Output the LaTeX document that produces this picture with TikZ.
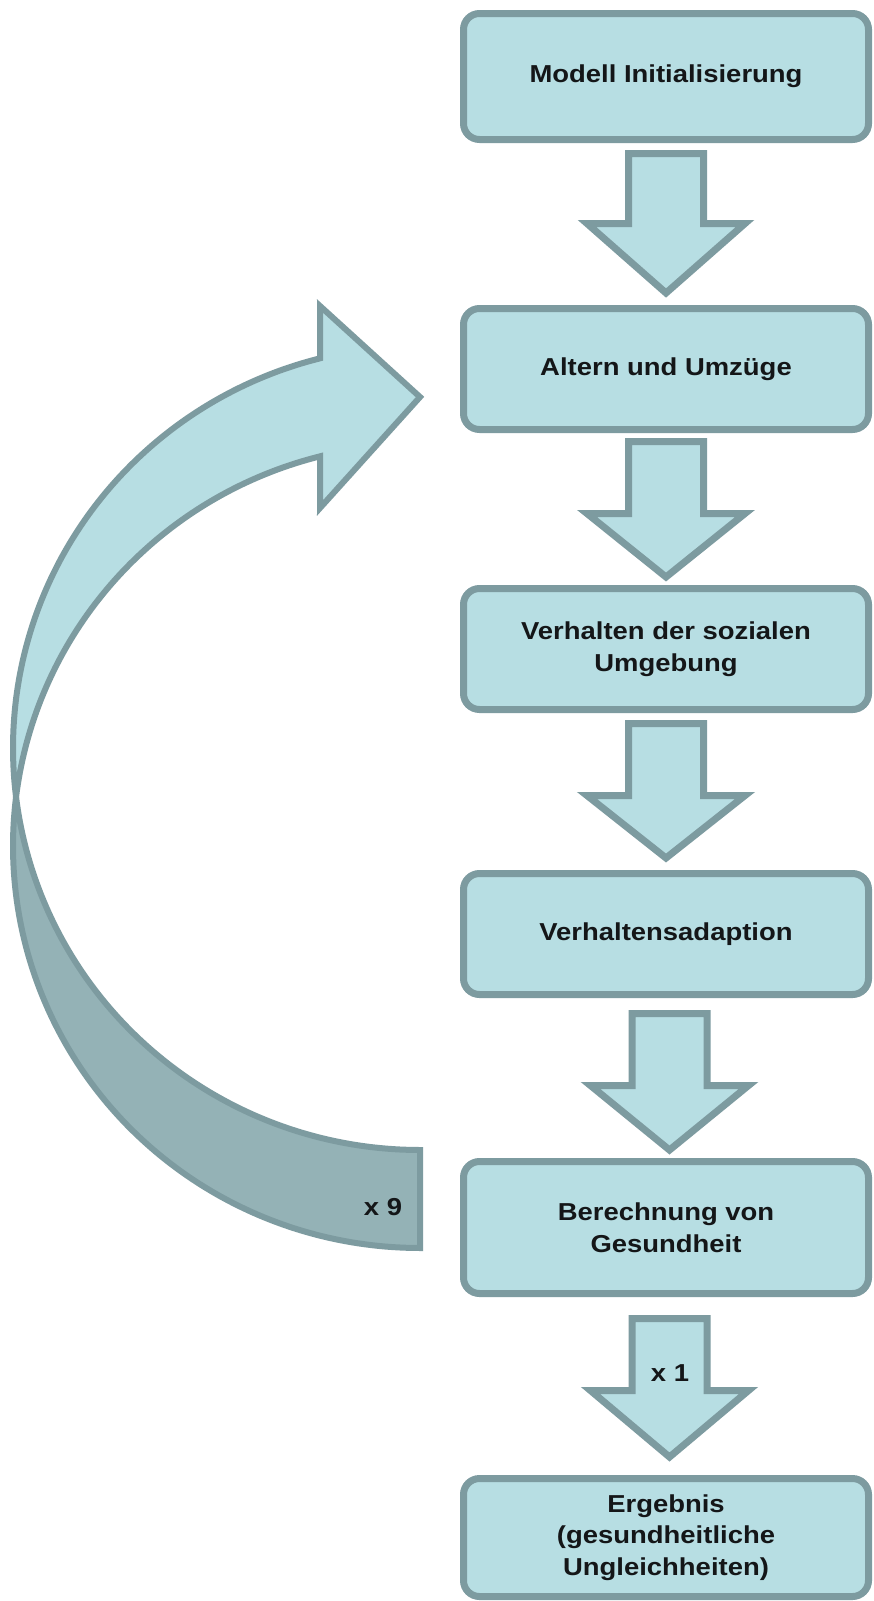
\documentclass[tikz,border=0pt]{standalone}
\usepackage{fontspec}
\setmainfont{Liberation Sans}[FakeStretch=1.12]
\definecolor{lightfill}{RGB}{183,222,227}
\definecolor{bordercol}{RGB}{125,155,160}
\definecolor{darkfill}{RGB}{148,178,182}
\definecolor{txtcol}{RGB}{20,22,24}
\tikzset{
  box/.style={draw=bordercol, fill=lightfill, line width=7pt, rounded corners=16pt,
    minimum width=405pt, align=center, text=txtcol,
    font=\fontsize{24.5}{31.7}\selectfont\bfseries, inner sep=0pt},
  arr/.style={draw=bordercol, fill=lightfill, line width=7pt, line join=miter},
  front/.style={draw=bordercol, fill=lightfill, line width=6pt, line join=miter},
  back/.style={draw=bordercol, fill=darkfill, line width=6pt, line join=miter},
  lbl/.style={text=txtcol, font=\fontsize{24.5}{31.7}\selectfont\bfseries, inner sep=0pt}
}
\newcommand\blockarr[4]{\draw[arr] (#1-37.5,#2) -- (#1+37.5,#2) -- (#1+37.5,#3) -- (#1+79,#3) -- (#1,#4) -- (#1-79,#3) -- (#1-37.5,#3) -- cycle;}
\begin{document}
\begin{tikzpicture}[x=1pt, y=-1pt]
\useasboundingbox[fill=white] (0,0) rectangle (873,1601);
% curved loop arrow: back (dark) part
\draw[back] plot[variable=\t, domain=7:-90, samples=60, smooth] ({420-407*cos(\t)},{846-402*sin(\t)})
  -- plot[variable=\t, domain=-90:-7, samples=60, smooth] ({420-407*cos(\t)},{748-402*sin(\t)}) -- cycle;
% front (light) part with arrowhead
\draw[front] plot[variable=\t, domain=-7:75.78, samples=60, smooth] ({420-407*cos(\t)},{748-402*sin(\t)})
  -- (320,306) -- (420,397) -- (320,508)
  -- plot[variable=\t, domain=75.78:7, samples=60, smooth] ({420-407*cos(\t)},{846-402*sin(\t)}) -- cycle;
\node[lbl] (x9) at (383,1207) {x 9};
% boxes
\node[box, minimum height=126pt] (b1) at (666,76.5) {Modell Initialisierung};
\node[box, minimum height=121pt] (b2) at (666,369) {Altern und Umzüge};
\node[box, minimum height=121pt] (b3) at (666,649) {Verhalten der sozialen\\Umgebung};
\node[box, minimum height=121pt] (b4) at (666,934) {Verhaltensadaption};
\node[box, minimum height=132pt] (b5) at (666,1227.5) {Berechnung von\\Gesundheit};
\node[box, minimum height=118pt] (b6) at (666,1537.5) {Ergebnis\\(gesundheitliche\\Ungleichheiten)};
% block arrows
\blockarr{666}{153.5}{223.5}{293}
\blockarr{666}{441.5}{513.5}{577}
\blockarr{666}{723.5}{795.5}{858}
\blockarr{669.5}{1013.5}{1085.5}{1150}
\blockarr{669.5}{1318.5}{1390.5}{1457}
\node[lbl] (x1) at (670,1373) {x 1};
\end{tikzpicture}
\end{document}
